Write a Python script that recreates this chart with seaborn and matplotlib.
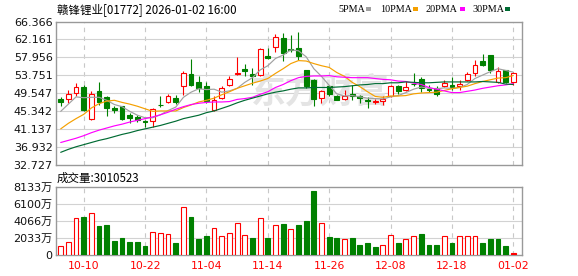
import numpy as np
import pandas as pd
import matplotlib
matplotlib.use("Agg")
import matplotlib.pyplot as plt
from matplotlib.patches import Rectangle
import seaborn as sns

# ---------------- data ----------------
title = "赣锋锂业[01772] 2026-01-02 16:00"
volume_title = "成交量:3010523"
watermark = "东方财富"
date_ticks = [3, 11, 19, 27, 35, 43, 51, 59]
date_labels = ["10-10", "10-22", "11-04", "11-14", "11-26", "12-08", "12-18", "01-02"]
price_ticks = [32.727, 36.932, 41.137, 45.342, 49.547, 53.751, 57.956, 62.161, 66.366]
vol_ticks = [0, 2033, 4066, 6100, 8133]
vol_tick_labels = ["0", "2033万", "4066万", "6100万", "8133万"]
ma_names = ["5PMA", "10PMA", "20PMA", "30PMA"]

opens = [48.21, 48.21, 49.61, 51.00, 43.41, 50.15, 48.68, 46.04, 46.51, 44.41,
         44.03, 42.94, 43.02, 46.89, 47.59, 48.52, 51.16, 54.10, 52.24, 51.16,
         45.58, 48.44, 51.54, 54.02, 55.26, 54.02, 53.87, 58.29, 60.30, 62.39,
         59.84, 60.07, 54.88, 52.71, 48.44, 51.31, 48.99, 48.21, 49.30, 48.83,
         47.90, 47.59, 47.67, 48.83, 51.16, 50.38, 51.78, 52.86, 50.46, 50.77,
         51.16, 51.54, 51.16, 52.71, 54.26, 57.12, 58.52, 52.09, 55.03, 52.09]
highs = [48.68, 50.38, 51.93, 51.46, 50.00, 52.09, 48.99, 46.66, 46.66, 44.80,
         44.34, 43.25, 46.12, 48.99, 49.45, 49.14, 54.80, 57.51, 53.48, 52.09,
         48.99, 51.31, 53.48, 58.13, 56.43, 55.42, 60.07, 60.07, 63.40, 63.71,
         63.17, 63.94, 55.03, 52.86, 50.38, 51.54, 49.22, 50.23, 51.47, 49.22,
         48.68, 48.21, 48.83, 51.54, 51.39, 52.32, 54.41, 53.33, 51.54, 51.16,
         52.71, 53.33, 52.71, 54.64, 57.35, 58.75, 58.60, 55.65, 55.10, 54.64]
lows = [46.66, 47.28, 48.99, 45.34, 43.25, 46.89, 44.18, 44.96, 43.25, 42.63,
        42.79, 41.70, 41.70, 46.35, 47.28, 47.13, 49.22, 51.16, 49.76, 47.28,
        45.34, 48.21, 51.16, 53.71, 53.64, 51.54, 53.64, 57.51, 59.29, 57.20,
        59.29, 57.35, 50.77, 46.66, 47.28, 48.99, 47.90, 48.06, 48.06, 47.28,
        46.12, 47.05, 46.89, 48.68, 49.45, 49.99, 51.31, 49.76, 49.76, 48.83,
        51.00, 50.38, 50.38, 52.47, 53.64, 55.96, 54.41, 51.93, 51.93, 51.54]
closes = [47.59, 49.45, 51.00, 45.73, 49.45, 47.44, 46.12, 45.58, 43.56, 43.64,
          43.17, 42.79, 45.89, 46.74, 48.83, 47.44, 54.26, 51.54, 50.77, 47.82,
          48.06, 50.77, 52.86, 54.18, 54.80, 53.48, 59.84, 57.74, 62.63, 58.91,
          59.60, 58.36, 51.16, 48.21, 49.99, 49.45, 48.06, 48.83, 48.83, 48.37,
          47.75, 47.75, 48.29, 51.31, 49.99, 51.08, 51.62, 50.77, 50.23, 49.45,
          51.93, 50.92, 51.78, 54.02, 56.19, 56.19, 55.03, 54.80, 52.09, 54.41]

ma5 = [45.3, 47.0, 48.7, 48.5, 48.6, 48.6, 47.9, 46.9, 46.4, 45.3,
       44.4, 43.8, 43.8, 44.5, 45.5, 46.3, 48.6, 49.8, 50.6, 50.4,
       50.5, 49.8, 50.1, 50.7, 52.1, 53.2, 55.0, 56.0, 57.7, 58.5,
       59.7, 59.5, 58.1, 55.3, 53.5, 51.4, 49.4, 48.9, 49.0, 48.7,
       48.4, 48.3, 48.2, 48.7, 49.0, 49.7, 50.5, 51.0, 50.7, 50.6,
       50.8, 50.7, 50.9, 51.6, 53.0, 53.8, 54.6, 55.3, 54.9, 54.5]
ma10 = [41.2, 42.5, 43.6, 44.6, 46.1, 47.1, 47.7, 47.9, 47.4, 47.0,
        46.5, 45.9, 45.3, 45.4, 45.4, 45.4, 46.2, 46.8, 47.5, 47.9,
        48.4, 49.2, 49.9, 50.7, 51.3, 51.9, 52.4, 53.0, 54.2, 55.3,
        56.5, 57.2, 57.1, 56.5, 56.0, 55.6, 54.4, 53.5, 52.1, 51.1,
        49.9, 48.8, 48.6, 48.9, 48.9, 49.0, 49.4, 49.6, 49.7, 49.8,
        50.2, 50.6, 50.9, 51.2, 51.8, 52.3, 52.7, 53.1, 53.2, 53.7]
ma20 = [38.0, 38.5, 39.0, 39.6, 40.3, 40.9, 41.4, 41.9, 42.3, 42.8,
        43.2, 43.6, 44.0, 44.5, 45.1, 45.8, 46.4, 46.9, 47.2, 47.4,
        47.5, 47.5, 47.6, 48.1, 48.3, 48.6, 49.3, 49.9, 50.9, 51.6,
        52.5, 53.2, 53.5, 53.6, 53.6, 53.7, 53.4, 53.3, 53.2, 53.2,
        53.2, 53.0, 52.8, 52.7, 52.4, 52.3, 51.9, 51.6, 50.9, 50.5,
        50.1, 49.7, 49.7, 50.0, 50.3, 50.7, 51.0, 51.3, 51.5, 51.8]
ma30 = [35.7, 36.4, 37.0, 37.5, 38.0, 38.5, 38.9, 39.4, 39.9, 40.3,
        40.8, 41.2, 41.6, 42.0, 42.5, 43.0, 43.6, 44.0, 44.4, 45.0,
        45.4, 46.0, 46.6, 47.3, 47.9, 48.4, 48.9, 49.4, 49.8, 50.1,
        50.5, 50.8, 50.8, 50.9, 50.9, 50.9, 51.0, 51.1, 51.3, 51.5,
        51.6, 51.8, 51.8, 52.0, 52.0, 52.2, 52.1, 52.0, 52.0, 52.1,
        52.2, 52.2, 52.2, 52.2, 52.2, 52.3, 52.2, 52.1, 51.7, 51.6]

volumes = [1092, 1567, 4380, 4534, 5009, 3466, 3585, 1721, 2042, 1602,
           1602, 1092, 2754, 2635, 2516, 1487, 5721, 4495, 1900, 2279,
           3189, 2240, 2596, 3783, 2358, 2002, 4376, 2002, 3545, 3703,
           3071, 3545, 4060, 7621, 3783, 2160, 2042, 1884, 2042, 1211,
           1448, 973, 1211, 2358, 1448, 1900, 2279, 2516, 1211, 1211,
           2279, 1500, 2279, 2279, 2279, 1448, 1900, 1900, 1092, 301]
vol_dir = list("RRRGRGGGGGGGRRRGRGGGRRRRRGRGRGRGGGRGGRGGGGRRGRRGGGRGRRRGGGGR")

# ---------------- style ----------------
RED = "#ff0000"
GREEN = "#008000"
ma_colors = {"5PMA": "#a0a0a0", "10PMA": "#f5a000", "20PMA": "#ff00ff", "30PMA": "#006b33"}
W, H = 578, 276

sns.set_theme(style="white")
plt.rcParams['font.family'] = ['DejaVu Sans', 'Noto Sans CJK SC']

fig = plt.figure(figsize=(W / 100, H / 100), dpi=100)
fig.patch.set_facecolor("white")

def fx(px):
    return px / W

def fy(py):
    return 1 - py / H

L, R = 55.5, 522.3
ax = fig.add_axes([fx(L), fy(165.0), fx(R - L), (165.0 - 21.5) / H])
axv = fig.add_axes([fx(L), fy(255.2), fx(R - L), (255.2 - 186.7) / H])

n = len(closes)
idx = np.arange(n)
xlim = (-0.68, 60.18)

# ---------------- candles ----------------
o = np.array(opens); c = np.array(closes); h = np.array(highs); lo = np.array(lows)
up = c >= o
ccol = np.where(up, RED, GREEN)
ax.vlines(idx, lo, h, colors=ccol, linewidth=0.8, zorder=3)
body_bottom = np.minimum(o, c)
body_h = np.maximum(np.abs(c - o), 0.06)
ax.bar(idx, body_h, bottom=body_bottom, width=0.62,
       color=np.where(up, "white", GREEN), edgecolor=ccol, linewidth=0.8, zorder=3.5)

# ---------------- MA lines ----------------
ma_df = pd.concat([
    pd.DataFrame({"idx": idx, "value": vals, "ma": name})
    for name, vals in zip(ma_names, [ma5, ma10, ma20, ma30])
])
sns.lineplot(data=ma_df, x="idx", y="value", hue="ma", palette=ma_colors,
             hue_order=ma_names, linewidth=0.85, legend=False, ax=ax, zorder=4)

ax.text(0.567, 0.51, watermark, transform=ax.transAxes, ha="center", va="center",
        fontsize=25, fontweight="bold", color="#e4e4e4", zorder=1.5,
        family=["Noto Sans CJK SC"])

# ---------------- volume ----------------
vol_df = pd.DataFrame({"idx": idx, "vol": volumes})
sns.barplot(data=vol_df, x="idx", y="vol", native_scale=True, width=0.62,
            errorbar=None, ax=axv, color=GREEN, zorder=3)
for i, p in enumerate(axv.patches):
    if vol_dir[i] == "R":
        p.set_facecolor(RED if i == n - 1 else "white")
        p.set_edgecolor(RED)
    else:
        p.set_facecolor(GREEN)
        p.set_edgecolor(GREEN)
    p.set_linewidth(0.8)

# ---------------- axes styling ----------------
for a in (ax, axv):
    a.set_xlim(*xlim)
    a.set_xlabel("")
    a.set_ylabel("")
    a.set_xticks(date_ticks)
    a.grid(False)
    for g in date_ticks:
        a.axvline(g, color="#c8c8c8", linewidth=0.8, linestyle=(0, (4, 4)), zorder=1)
    for s in a.spines.values():
        s.set_color("#999999")
        s.set_linewidth(1.0)
    a.tick_params(axis="both", length=0)

ax.set_ylim(price_ticks[0], price_ticks[-1])
ax.set_yticks(price_ticks)
ax.set_yticklabels([f"{v:.3f}" for v in price_ticks], fontsize=8, color="#111111")
for v in price_ticks[1:-1]:
    ax.axhline(v, color="#d2d2d2", linewidth=0.8, zorder=1)
ax.set_xticklabels([])
ax.tick_params(axis="y", pad=2)

axv.set_ylim(0, vol_ticks[-1])
axv.set_yticks(vol_ticks)
axv.set_yticklabels(vol_tick_labels, fontsize=8, color="#111111")
for v in vol_ticks[1:-1]:
    axv.axhline(v, color="#d2d2d2", linewidth=0.8, zorder=1)
axv.set_xticklabels(date_labels, fontsize=7.8, color=RED)
axv.tick_params(axis="y", pad=2)
axv.tick_params(axis="x", pad=4)

# ---------------- texts ----------------
fig.text(fx(57), fy(10), title, fontsize=8.3, ha="left", va="center",
         family=["Noto Sans CJK SC"], color="black")
fig.text(fx(57), fy(178), volume_title, fontsize=8.3, ha="left", va="center",
         family=["Noto Sans CJK SC"], color="black")

leg_x = [338, 380, 425, 472]
sq_x = [366, 413, 460, 505]
for name, tx, sx in zip(ma_names, leg_x, sq_x):
    fig.text(fx(tx), fy(9), name, fontsize=7.3, ha="left", va="center",
             family=["Liberation Serif"], color="black")
    fig.patches.append(Rectangle((fx(sx), fy(10.5)), fx(5), 3 / H,
                                 transform=fig.transFigure, facecolor=ma_colors[name],
                                 edgecolor="none"))

fig.savefig("out.png", dpi=100)
